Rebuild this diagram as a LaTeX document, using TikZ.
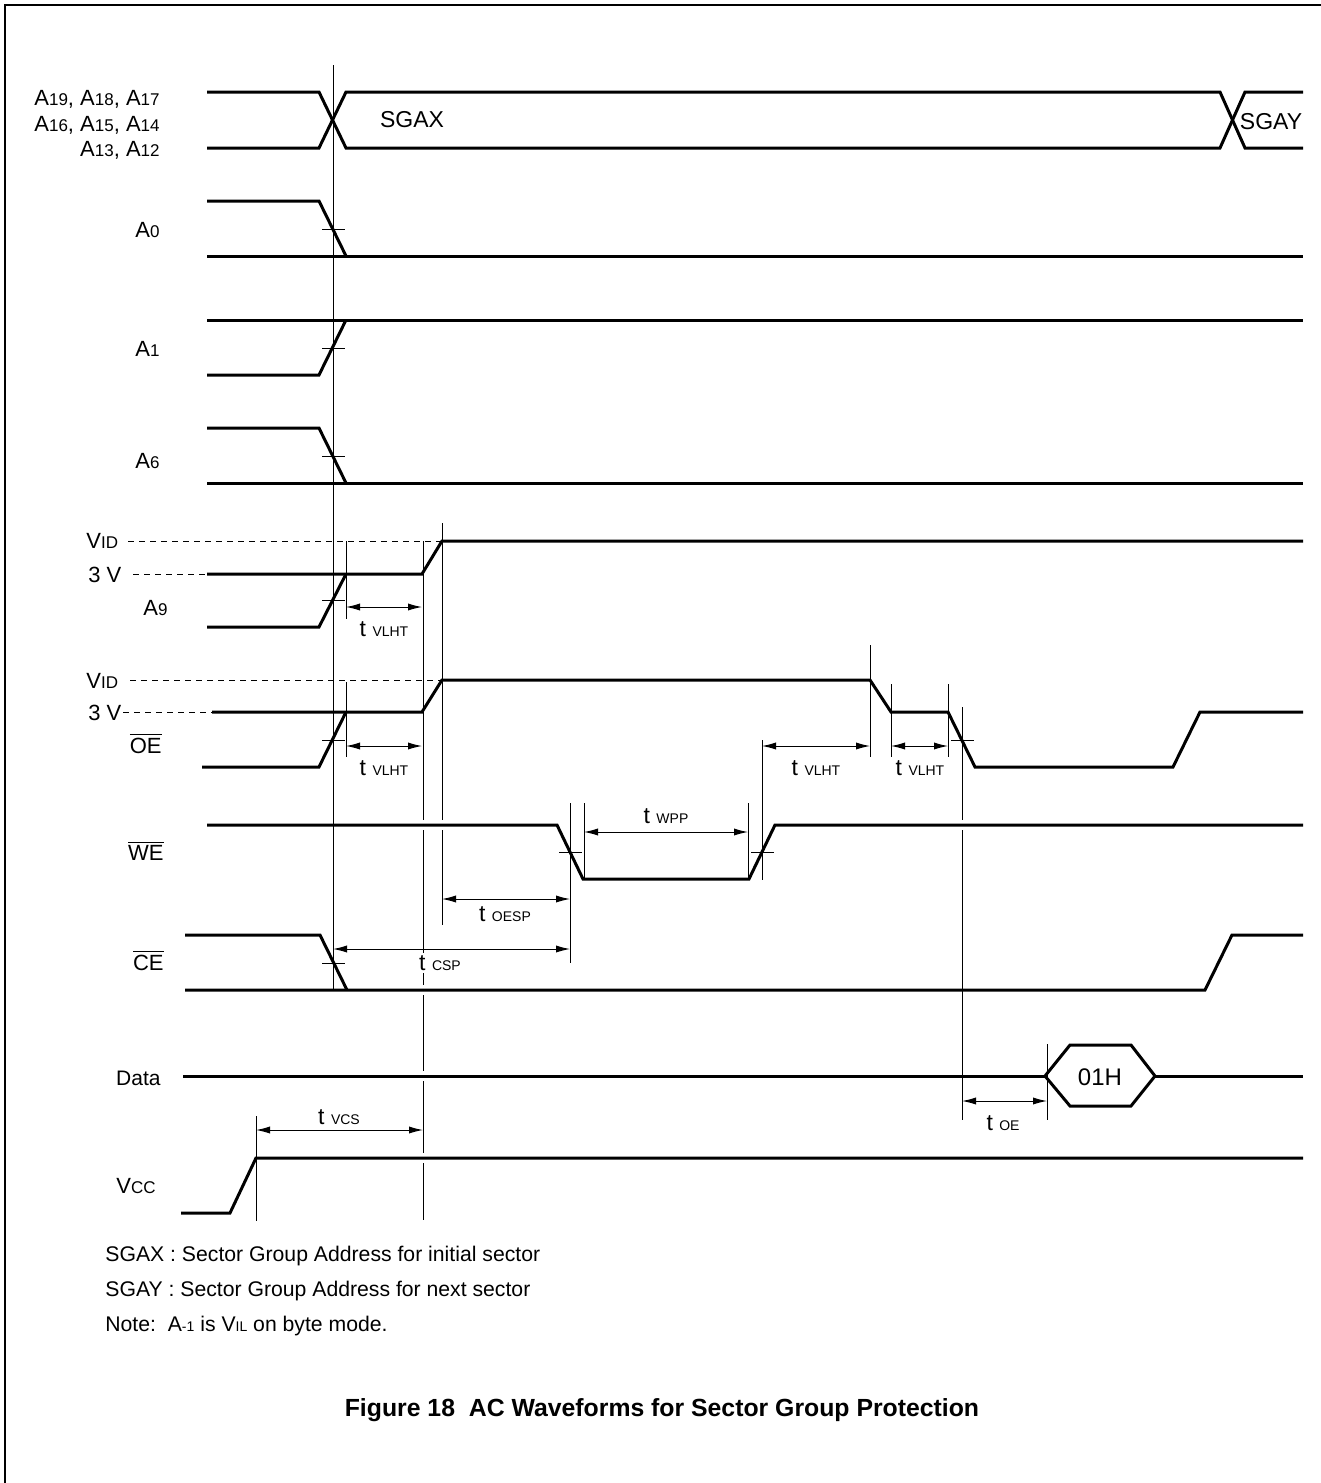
\documentclass[tikz,border=0pt]{standalone}
\usepackage{fontspec}
\setmainfont{Liberation Sans}
\usetikzlibrary{arrows.meta}
\newcommand\lsub[1]{{\fontsize{8.5}{9}\selectfont #1}}
\newcommand\tsub[1]{{\fontsize{7}{8}\selectfont #1}}
\newcommand\lbar[1]{$\overline{\mbox{#1}}$}
\begin{document}
\begin{tikzpicture}[x=0.5pt,y=-0.5pt,
  sig/.style={line width=1.5pt,line join=miter},
  vline/.style={line width=0.5pt},
  dashline/.style={line width=0.5pt,dash pattern=on 3pt off 2.5pt},
  tick/.style={line width=0.5pt},
  dim/.style={line width=0.5pt,{Latex[length=7pt,width=3.6pt]}-{Latex[length=7pt,width=3.6pt]}},
  lab/.style={font=\fontsize{11}{13}\selectfont,inner sep=0pt},
  tlab/.style={font=\fontsize{11.5}{13}\selectfont,inner sep=1pt,fill=white},
  note/.style={font=\fontsize{10.6}{13}\selectfont,inner sep=0pt,anchor=base west},
]
\useasboundingbox (0,0) rectangle (1321,1483);
% frame
\draw[line width=1pt] (5,1483) -- (5,5) -- (1321,5);

% vertical reference lines
\draw[vline] (333,65) -- (333,990);
\draw[vline] (346,541) -- (346,619);
\draw[vline] (423,541) -- (423,1220);
\draw[vline] (442,523) -- (442,925);
\draw[vline] (346,682) -- (346,757);
\draw[vline] (870,645) -- (870,757);
\draw[vline] (891,684) -- (891,757);
\draw[vline] (948,684) -- (948,757);
\draw[vline] (962,707) -- (962,1120);
\draw[vline] (762,740) -- (762,880);
\draw[vline] (570,803) -- (570,963);
\draw[vline] (584,803) -- (584,880);
\draw[vline] (748,803) -- (748,880);
\draw[vline] (1047,1044) -- (1047,1120);
\draw[vline] (256,1116) -- (256,1221);
% gaps where thin lines pass behind signals
\foreach \gx/\gy in {423/825,442/825,962/825,423/990,423/1076,423/1158}
  \fill[white] (\gx-2,\gy-5) rectangle (\gx+2,\gy+5);

% address bus
\draw[sig] (207,92) -- (319,92) -- (346,148) -- (1220,148) -- (1245,92) -- (1303,92);
\draw[sig] (207,148) -- (319,148) -- (346,92) -- (1220,92) -- (1245,148) -- (1303,148);
\node[lab,font=\fontsize{11.5}{13}\selectfont] (sgax) at (412,120) {SGAX};
\node[lab,font=\fontsize{11.5}{13}\selectfont] (sgay) at (1271,122) {SGAY};
\node[lab,anchor=base east] (la1) at (160,105) {A\lsub{19}, A\lsub{18}, A\lsub{17}};
\node[lab,anchor=base east] (la2) at (160,131) {A\lsub{16}, A\lsub{15}, A\lsub{14}};
\node[lab,anchor=base east] (la3) at (160,156) {A\lsub{13}, A\lsub{12}};

% A0
\draw[sig] (207,201) -- (319,201) -- (346,256);
\draw[sig] (207,256) -- (1303,256);
\draw[tick] (322,229) -- (345,229);
\node[lab,anchor=base east] (la0) at (160,237) {A\lsub{0}};

% A1
\draw[sig] (207,375) -- (319,375) -- (346,320);
\draw[sig] (207,320) -- (1303,320);
\draw[tick] (322,348) -- (345,348);
\node[lab,anchor=base east] (lA1) at (160,356) {A\lsub{1}};

% A6
\draw[sig] (207,428) -- (319,428) -- (346,483);
\draw[sig] (207,483) -- (1303,483);
\draw[tick] (322,456) -- (345,456);
\node[lab,anchor=base east] (lA6) at (160,468) {A\lsub{6}};

% A9
\draw[dashline] (128,541) -- (442,541);
\draw[dashline] (133,574) -- (207,574);
\draw[sig] (207,627) -- (319,627) -- (346,574);
\draw[sig] (207,574) -- (422,574) -- (442,541) -- (1303,541);
\draw[tick] (322,600) -- (345,600);
\node[lab,anchor=base west] (vid1) at (86,548) {V\lsub{ID}};
\node[lab,anchor=base west] (v31) at (88,582) {3 V};
\node[lab,anchor=base west] (lA9) at (143,615) {A\lsub{9}};
\draw[dim] (346,607) -- (422,607);
\node[tlab] (tv1) at (384,629) {t \tsub{VLHT}};

% OE
\draw[dashline] (130,680) -- (442,680);
\draw[dashline] (123,712) -- (212,712);
\draw[sig] (202,767) -- (319,767) -- (346,712);
\draw[sig] (212,712) -- (422,712) -- (442,680) -- (870,680) -- (891,712) -- (948,712) -- (975,767) -- (1173,767) -- (1200,712) -- (1303,712);
\draw[tick] (322,740) -- (345,740);
\draw[tick] (951,740) -- (974,740);
\node[lab,anchor=base west] (vid2) at (86,688) {V\lsub{ID}};
\node[lab,anchor=base west] (v32) at (88,720) {3 V};
\node[lab,anchor=base east] (lOE) at (162,753) {\lbar{OE}};
\draw[dim] (346,746) -- (422,746);
\node[tlab] (tv2) at (384,768) {t \tsub{VLHT}};
\draw[dim] (762,746) -- (870,746);
\node[tlab] (tv3) at (816,768) {t \tsub{VLHT}};
\draw[dim] (891,746) -- (948,746);
\node[tlab] (tv4) at (920,768) {t \tsub{VLHT}};

% WE
\draw[sig] (207,825) -- (557,825) -- (583,879) -- (749,879) -- (775,825) -- (1303,825);
\draw[tick] (559,852) -- (582,852);
\draw[tick] (751,852) -- (774,852);
\node[lab,anchor=base east] (lWE) at (164,860) {\lbar{WE}};
\draw[dim] (584,832) -- (748,832);
\node[tlab] (twpp) at (666,816) {t \tsub{WPP}};
\draw[dim] (442,899) -- (570,899);
\node[tlab] (toesp) at (505,914) {t \tsub{OESP}};

% CE
\draw[sig] (185,935) -- (320,935) -- (347,990);
\draw[sig] (185,990) -- (1205,990) -- (1232,935) -- (1303,935);
\draw[tick] (322,963) -- (345,963);
\node[lab,anchor=base east] (lCE) at (164,970) {\lbar{CE}};
\draw[dim] (333,949) -- (570,949);
\node[tlab] (tcsp) at (440,963) {t \tsub{CSP}};

% Data
\draw[sig] (183,1076) -- (1045,1076);
\draw[sig] (1045,1076) -- (1070,1045) -- (1131,1045) -- (1155,1076) -- (1131,1106) -- (1070,1106) -- cycle;
\draw[sig] (1155,1076) -- (1303,1076);
\node[lab,font=\fontsize{12}{14}\selectfont] (d01h) at (1100,1077) {01H};
\node[lab,anchor=base east,font=\fontsize{10.5}{13}\selectfont] (lData) at (161,1085) {Data};
\draw[dim] (962,1101) -- (1047,1101);
\node[tlab] (toe) at (1003,1123) {t \tsub{OE}};

% VCC
\draw[sig] (181,1213) -- (230,1213) -- (256,1158) -- (1303,1158);
\node[lab,anchor=base east] (lVcc) at (156,1193) {V\lsub{CC}};
\draw[dim] (256,1130) -- (423,1130);
\node[tlab] (tvcs) at (339,1117) {t \tsub{VCS}};

% notes
\node[note] (n1) at (105,1261) {SGAX : Sector Group Address for initial sector};
\node[note] (n2) at (105,1296) {SGAY : Sector Group Address for next sector};
\node[note] (n3) at (105,1331) {Note:\ \ A\tsub{-1} is V\tsub{IL} on byte mode.};
\node[font=\fontsize{12.4}{14}\selectfont\bfseries,inner sep=0pt] (cap) at (662,1410) {Figure 18\ \ AC Waveforms for Sector Group Protection};
\end{tikzpicture}
\end{document}
